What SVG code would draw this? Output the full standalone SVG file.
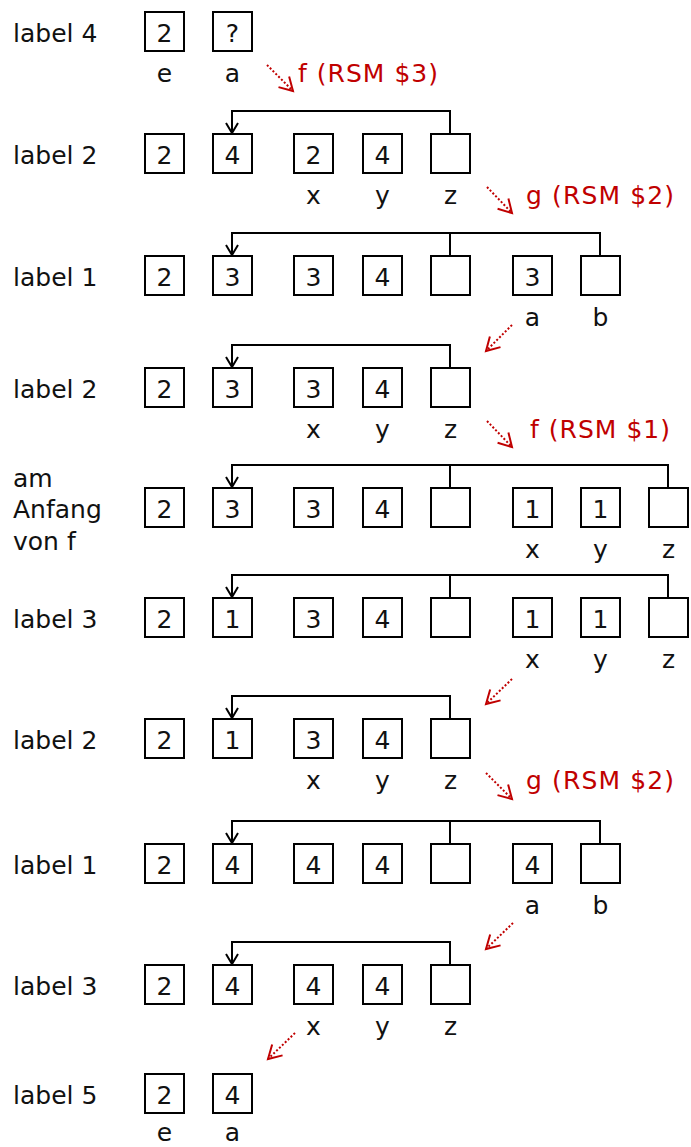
<svg xmlns="http://www.w3.org/2000/svg" width="691" height="1147" viewBox="0 0 691 1147">
<style>
text{font-family:"DejaVu Sans","Liberation Sans",sans-serif;font-size:25px;fill:#111}
.n rect{fill:#fff;stroke:#000;stroke-width:2}
.n text,.v{text-anchor:middle}
.r{fill:#c00000}
.c{fill:none;stroke:#000;stroke-width:2}
.d{fill:none;stroke:#c00000;stroke-width:2;stroke-dasharray:2 2}
</style>
<defs>
<marker id="ah" markerUnits="userSpaceOnUse" markerWidth="20" markerHeight="20" viewBox="-14 -10 20 20" refX="0" refY="0" orient="auto" overflow="visible"><path d="M-10,-6 L0,0 L-10,6" fill="none" stroke="#000" stroke-width="2"/></marker>
<marker id="rh" markerUnits="userSpaceOnUse" markerWidth="20" markerHeight="20" viewBox="-16 -10 20 20" refX="0" refY="0" orient="auto" overflow="visible"><path d="M-13,-7.5 L0,0 L-13,7.5" fill="none" stroke="#c00000" stroke-width="2"/></marker>
</defs>
<rect width="691" height="1147" fill="#fff"/>

<g id="rowlabels">
<text x="13" y="42">label 4</text>
<text x="13" y="164">label 2</text>
<text x="13" y="286">label 1</text>
<text x="13" y="398">label 2</text>
<text x="13" y="487">am</text>
<text x="13" y="518">Anfang</text>
<text x="13" y="550">von f</text>
<text x="13" y="628">label 3</text>
<text x="13" y="749">label 2</text>
<text x="13" y="874">label 1</text>
<text x="13" y="995">label 3</text>
<text x="13" y="1104">label 5</text>
</g>

<g id="connectors">
<path class="c" d="M450,133 V111 H232 V133" marker-end="url(#ah)"/>
<path class="c" d="M600,255 V233 H232 V255" marker-end="url(#ah)"/>
<path class="c" d="M450,255 V233"/>
<path class="c" d="M450,367 V345 H232 V367" marker-end="url(#ah)"/>
<path class="c" d="M668,487 V465 H232 V487" marker-end="url(#ah)"/>
<path class="c" d="M450,487 V465"/>
<path class="c" d="M668,597 V575 H232 V597" marker-end="url(#ah)"/>
<path class="c" d="M450,597 V575"/>
<path class="c" d="M450,718 V696 H232 V718" marker-end="url(#ah)"/>
<path class="c" d="M600,843 V821 H232 V843" marker-end="url(#ah)"/>
<path class="c" d="M450,843 V821"/>
<path class="c" d="M450,964 V942 H232 V964" marker-end="url(#ah)"/>
<path class="d" d="M267,65 L293,91" marker-end="url(#rh)"/>
<path class="d" d="M487,187 L512,213" marker-end="url(#rh)"/>
<path class="d" d="M512,325 L486,351" marker-end="url(#rh)"/>
<path class="d" d="M487,421 L512,447" marker-end="url(#rh)"/>
<path class="d" d="M512,679 L486,704" marker-end="url(#rh)"/>
<path class="d" d="M486,773 L512,799" marker-end="url(#rh)"/>
<path class="d" d="M513,923 L486,949" marker-end="url(#rh)"/>
<path class="d" d="M295,1033 L268,1059" marker-end="url(#rh)"/>
</g>

<g id="calls">
<text class="r" x="298" y="82" textLength="140" lengthAdjust="spacing">f (RSM $3)</text>
<text class="r" x="526" y="204" textLength="148" lengthAdjust="spacing">g (RSM $2)</text>
<text class="r" x="530" y="438" textLength="140" lengthAdjust="spacing">f (RSM $1)</text>
<text class="r" x="526" y="789" textLength="148" lengthAdjust="spacing">g (RSM $2)</text>
</g>

<!-- row 1 -->
<g id="r1c1" class="n"><rect x="145" y="12" width="39" height="39"/><text x="164.5" y="42">2</text></g>
<g id="r1c2" class="n"><rect x="213" y="12" width="39" height="39"/><text x="232.5" y="42">?</text></g>
<!-- row 2 -->
<g id="r2c1" class="n"><rect x="145" y="134" width="39" height="39"/><text x="164.5" y="164">2</text></g>
<g id="r2c2" class="n"><rect x="213" y="134" width="39" height="39"/><text x="232.5" y="164">4</text></g>
<g id="r2c3" class="n"><rect x="294" y="134" width="39" height="39"/><text x="313.5" y="164">2</text></g>
<g id="r2c4" class="n"><rect x="363" y="134" width="39" height="39"/><text x="382.5" y="164">4</text></g>
<g id="r2c5" class="n"><rect x="431" y="134" width="39" height="39"/></g>
<!-- row 3 -->
<g id="r3c1" class="n"><rect x="145" y="256" width="39" height="39"/><text x="164.5" y="286">2</text></g>
<g id="r3c2" class="n"><rect x="213" y="256" width="39" height="39"/><text x="232.5" y="286">3</text></g>
<g id="r3c3" class="n"><rect x="294" y="256" width="39" height="39"/><text x="313.5" y="286">3</text></g>
<g id="r3c4" class="n"><rect x="363" y="256" width="39" height="39"/><text x="382.5" y="286">4</text></g>
<g id="r3c5" class="n"><rect x="431" y="256" width="39" height="39"/></g>
<g id="r3c6" class="n"><rect x="513" y="256" width="39" height="39"/><text x="532.5" y="286">3</text></g>
<g id="r3c7" class="n"><rect x="581" y="256" width="39" height="39"/></g>
<!-- row 4 -->
<g id="r4c1" class="n"><rect x="145" y="368" width="39" height="39"/><text x="164.5" y="398">2</text></g>
<g id="r4c2" class="n"><rect x="213" y="368" width="39" height="39"/><text x="232.5" y="398">3</text></g>
<g id="r4c3" class="n"><rect x="294" y="368" width="39" height="39"/><text x="313.5" y="398">3</text></g>
<g id="r4c4" class="n"><rect x="363" y="368" width="39" height="39"/><text x="382.5" y="398">4</text></g>
<g id="r4c5" class="n"><rect x="431" y="368" width="39" height="39"/></g>
<!-- row 5 -->
<g id="r5c1" class="n"><rect x="145" y="488" width="39" height="39"/><text x="164.5" y="518">2</text></g>
<g id="r5c2" class="n"><rect x="213" y="488" width="39" height="39"/><text x="232.5" y="518">3</text></g>
<g id="r5c3" class="n"><rect x="294" y="488" width="39" height="39"/><text x="313.5" y="518">3</text></g>
<g id="r5c4" class="n"><rect x="363" y="488" width="39" height="39"/><text x="382.5" y="518">4</text></g>
<g id="r5c5" class="n"><rect x="431" y="488" width="39" height="39"/></g>
<g id="r5c6" class="n"><rect x="513" y="488" width="39" height="39"/><text x="532.5" y="518">1</text></g>
<g id="r5c7" class="n"><rect x="581" y="488" width="39" height="39"/><text x="600.5" y="518">1</text></g>
<g id="r5c8" class="n"><rect x="649" y="488" width="39" height="39"/></g>
<!-- row 6 -->
<g id="r6c1" class="n"><rect x="145" y="598" width="39" height="39"/><text x="164.5" y="628">2</text></g>
<g id="r6c2" class="n"><rect x="213" y="598" width="39" height="39"/><text x="232.5" y="628">1</text></g>
<g id="r6c3" class="n"><rect x="294" y="598" width="39" height="39"/><text x="313.5" y="628">3</text></g>
<g id="r6c4" class="n"><rect x="363" y="598" width="39" height="39"/><text x="382.5" y="628">4</text></g>
<g id="r6c5" class="n"><rect x="431" y="598" width="39" height="39"/></g>
<g id="r6c6" class="n"><rect x="513" y="598" width="39" height="39"/><text x="532.5" y="628">1</text></g>
<g id="r6c7" class="n"><rect x="581" y="598" width="39" height="39"/><text x="600.5" y="628">1</text></g>
<g id="r6c8" class="n"><rect x="649" y="598" width="39" height="39"/></g>
<!-- row 7 -->
<g id="r7c1" class="n"><rect x="145" y="719" width="39" height="39"/><text x="164.5" y="749">2</text></g>
<g id="r7c2" class="n"><rect x="213" y="719" width="39" height="39"/><text x="232.5" y="749">1</text></g>
<g id="r7c3" class="n"><rect x="294" y="719" width="39" height="39"/><text x="313.5" y="749">3</text></g>
<g id="r7c4" class="n"><rect x="363" y="719" width="39" height="39"/><text x="382.5" y="749">4</text></g>
<g id="r7c5" class="n"><rect x="431" y="719" width="39" height="39"/></g>
<!-- row 8 -->
<g id="r8c1" class="n"><rect x="145" y="844" width="39" height="39"/><text x="164.5" y="874">2</text></g>
<g id="r8c2" class="n"><rect x="213" y="844" width="39" height="39"/><text x="232.5" y="874">4</text></g>
<g id="r8c3" class="n"><rect x="294" y="844" width="39" height="39"/><text x="313.5" y="874">4</text></g>
<g id="r8c4" class="n"><rect x="363" y="844" width="39" height="39"/><text x="382.5" y="874">4</text></g>
<g id="r8c5" class="n"><rect x="431" y="844" width="39" height="39"/></g>
<g id="r8c6" class="n"><rect x="513" y="844" width="39" height="39"/><text x="532.5" y="874">4</text></g>
<g id="r8c7" class="n"><rect x="581" y="844" width="39" height="39"/></g>
<!-- row 9 -->
<g id="r9c1" class="n"><rect x="145" y="965" width="39" height="39"/><text x="164.5" y="995">2</text></g>
<g id="r9c2" class="n"><rect x="213" y="965" width="39" height="39"/><text x="232.5" y="995">4</text></g>
<g id="r9c3" class="n"><rect x="294" y="965" width="39" height="39"/><text x="313.5" y="995">4</text></g>
<g id="r9c4" class="n"><rect x="363" y="965" width="39" height="39"/><text x="382.5" y="995">4</text></g>
<g id="r9c5" class="n"><rect x="431" y="965" width="39" height="39"/></g>
<!-- row 10 -->
<g id="r10c1" class="n"><rect x="145" y="1074" width="39" height="39"/><text x="164.5" y="1104">2</text></g>
<g id="r10c2" class="n"><rect x="213" y="1074" width="39" height="39"/><text x="232.5" y="1104">4</text></g>

<g id="varlabels">
<text class="v" x="164.5" y="82">e</text><text class="v" x="232.5" y="82">a</text>
<text class="v" x="313.5" y="204">x</text><text class="v" x="382.5" y="204">y</text><text class="v" x="450.5" y="204">z</text>
<text class="v" x="532.5" y="326">a</text><text class="v" x="600.5" y="326">b</text>
<text class="v" x="313.5" y="438">x</text><text class="v" x="382.5" y="438">y</text><text class="v" x="450.5" y="438">z</text>
<text class="v" x="532.5" y="558">x</text><text class="v" x="600.5" y="558">y</text><text class="v" x="668.5" y="558">z</text>
<text class="v" x="532.5" y="668">x</text><text class="v" x="600.5" y="668">y</text><text class="v" x="668.5" y="668">z</text>
<text class="v" x="313.5" y="789">x</text><text class="v" x="382.5" y="789">y</text><text class="v" x="450.5" y="789">z</text>
<text class="v" x="532.5" y="914">a</text><text class="v" x="600.5" y="914">b</text>
<text class="v" x="313.5" y="1035">x</text><text class="v" x="382.5" y="1035">y</text><text class="v" x="450.5" y="1035">z</text>
<text class="v" x="164.5" y="1141">e</text><text class="v" x="232.5" y="1141">a</text>
</g>
</svg>
